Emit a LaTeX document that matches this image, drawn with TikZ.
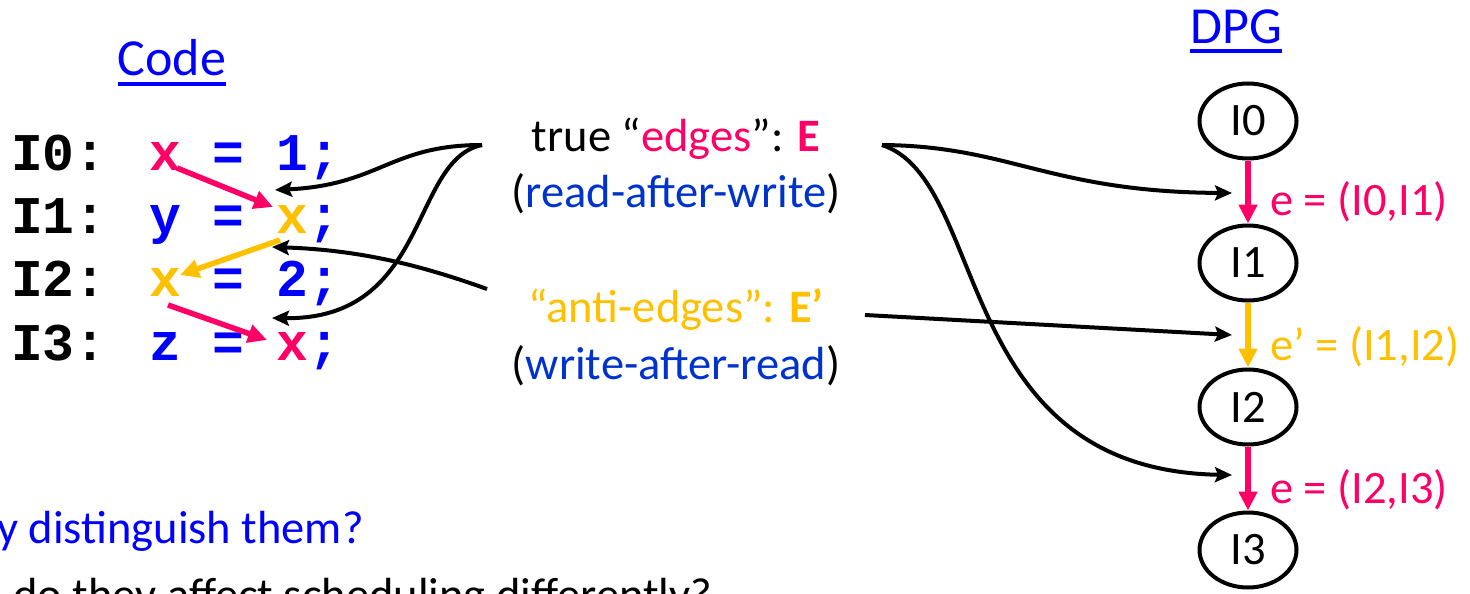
\documentclass[tikz,border=0pt]{standalone}
\usepackage{fontspec}
\setmainfont{Carlito}
\newfontfamily\codefont{Liberation Mono}[WordSpace={1,0,0}]
\usetikzlibrary{arrows.meta,shapes.geometric}
\definecolor{mag}{HTML}{FF0066}
\definecolor{orng}{HTML}{FFC000}
\definecolor{pblue}{HTML}{0000FF}
\definecolor{tblue}{HTML}{0033CC}

\begin{document}
\begin{tikzpicture}[x=1pt,y=-1pt,
  txt/.style={font=\fontsize{46.5}{56}\selectfont, inner sep=0pt},
  head/.style={font=\fontsize{52}{60}\selectfont, text=pblue, inner sep=0pt, anchor=base},
  codeline/.style={font=\codefont\bfseries\fontsize{53}{60}\selectfont, inner sep=0pt, anchor=base west},
  codearrow/.style={line width=5.5pt, -{Triangle[length=19pt,width=18pt]}},
  conn/.style={line width=4pt, black, -{Stealth[length=17pt,width=15pt,inset=3pt]}},
  insn/.style={ellipse, draw, line width=4pt, minimum width=97pt, minimum height=75pt, inner sep=0pt, font=\fontsize{46.5}{56}\selectfont},
  dep/.style={line width=6pt, -{Triangle[length=19pt,width=18pt]}}
]
\useasboundingbox (0,0) rectangle (1470,594);
\clip (0,0) rectangle (1470,594);

% headings
\node[head] (hcode) at (172,76) {Code};
\draw[pblue, line width=3.5pt] ([yshift=-8pt]hcode.base west) -- ([yshift=-8pt]hcode.base east);
\node[head] (hdpg) at (1236,44) {DPG};
\draw[pblue, line width=3.5pt] ([yshift=-7pt]hdpg.base west) -- ([yshift=-7pt]hdpg.base east);

% code listing
\node[codeline] (l0) at (11,170) {I0: \textcolor{mag}{x} \textcolor{pblue}{= 1;}};
\node[codeline] (l1) at (11,233) {I1: \textcolor{pblue}{y =} \textcolor{orng}{x}\textcolor{pblue}{;}};
\node[codeline] (l2) at (11,296) {I2: \textcolor{orng}{x} \textcolor{pblue}{= 2;}};
\node[codeline] (l3) at (11,360) {I3: \textcolor{pblue}{z =} \textcolor{mag}{x}\textcolor{pblue}{;}};

% dependence arrows inside the code
\coordinate (x0w) at (177,168);
\coordinate (x1r) at (273,207);
\coordinate (x1w) at (280,240);
\coordinate (x2r) at (180,275);
\coordinate (x2w) at (168,305);
\coordinate (x3r) at (267,340);
\draw[codearrow, mag] (x0w) -- (x1r);
\draw[codearrow, orng] (x1w) -- (x2r);
\draw[codearrow, mag] (x2w) -- (x3r);

% legend
\node[txt, anchor=base] (tE) at (676,151) {true “\textcolor{mag}{edges}”: \textcolor{mag}{\bfseries E}};
\node[txt, anchor=base] (tRAW) at (676,207) {(\textcolor{tblue}{read-after-write})};
\node[txt, anchor=base, text=orng] (tA) at (676,322) {“anti-edges”: {\bfseries E’}};
\node[txt, anchor=base] (tWAR) at (676,379) {(\textcolor{tblue}{write-after-read})};

% dependence graph
\node[insn] (i0) at (1248,121) {I0};
\node[insn] (i1) at (1248,263) {I1};
\node[insn] (i2) at (1248,407) {I2};
\node[insn] (i3) at (1248,550) {I3};
\draw[dep, mag] (i0) -- (i1);
\draw[dep, orng] (i1) -- (i2);
\draw[dep, mag] (i2) -- (i3);
\node[txt, anchor=base west, text=mag] (e01) at (1270,215) {e = (I0,I1)};
\node[txt, anchor=base west, text=orng] (e12) at (1270,360) {e’ = (I1,I2)};
\node[txt, anchor=base west, text=mag] (e23) at (1270,503) {e = (I2,I3)};

% pointers from the legend
\coordinate (eL) at (482,145);
\coordinate (eR) at (882,145);
\coordinate (aL) at (487,289);
\coordinate (aR) at (865,315);
\coordinate (c1) at (275,190);
\coordinate (c2) at (272,247);
\coordinate (c3) at (272,318);
\coordinate (d1) at (1232,193);
\coordinate (d2) at (1232,335);
\coordinate (d3) at (1232,475);
\draw[conn] (eL) .. controls (390,145) and (380,185) .. (c1);
\draw[conn] (eL) .. controls (410,160) and (430,320) .. (c3);
\draw[conn] (aL) .. controls (420,265) and (360,250) .. (c2);
\draw[conn] (eR) .. controls (1010,146) and (1050,192) .. (d1);
\draw[conn] (eR) .. controls (990,180) and (950,470) .. (d3);
\draw[conn] (aR) -- (d2);

% questions
\node[txt, anchor=base east, text=pblue] (q1) at (364,543) {y distinguish them?};
\node[txt, anchor=base west] (q2) at (13,610) {do they affect scheduling differently?};
\end{tikzpicture}
\end{document}
